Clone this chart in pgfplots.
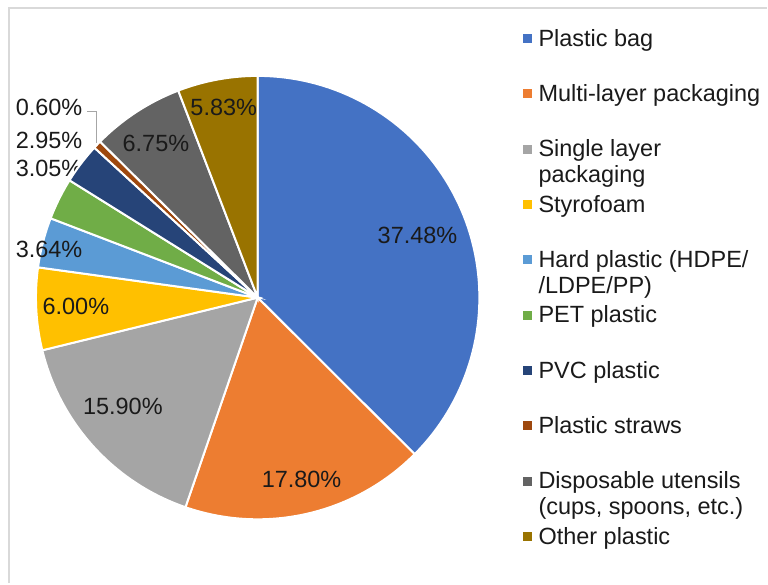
\documentclass[border=0pt]{standalone}
\usepackage{pgfplots}
\pgfplotsset{compat=1.18}
\usepackage{pgfplotstable}
\usepackage{fontspec}
\setmainfont{Liberation Sans}

% Office palette for the ten waste categories
\definecolor{slice0}{HTML}{4472C4}
\definecolor{slice1}{HTML}{ED7D31}
\definecolor{slice2}{HTML}{A5A5A5}
\definecolor{slice3}{HTML}{FFC000}
\definecolor{slice4}{HTML}{5B9BD5}
\definecolor{slice5}{HTML}{70AD47}
\definecolor{slice6}{HTML}{264478}
\definecolor{slice7}{HTML}{9E480E}
\definecolor{slice8}{HTML}{636363}
\definecolor{slice9}{HTML}{997300}
\definecolor{txt}{HTML}{1A1A1A}

% share in percent, position of its data label (pie radius = 1)
\pgfplotstableread{
share  lx      ly
37.48  0.721   0.279
17.80  0.198  -0.820
15.90 -0.608  -0.491
6.00  -0.820  -0.041
3.64  -0.941   0.216
3.05  -0.941   0.581
2.95  -0.941   0.707
0.60  -0.941   0.860
6.75  -0.459   0.694
5.83  -0.153   0.856
}\piedata

\newcommand\chartfont{\fontsize{23.5bp}{25.5bp}\selectfont}
\newcommand\entry[1]{\parbox[t]{228bp}{\raggedright #1}}
\tikzset{pct/.style={font=\chartfont, text=txt, inner sep=0pt, anchor=center}}

\begin{document}
\begin{tikzpicture}
\begin{axis}[
  x=222bp, y=222bp,
  xmin=-1.1622, xmax=2.2973,
  ymin=-1.2883, ymax=1.3423,
  hide axis, clip=false,
  legend image code/.code={\fill[#1,draw=none] (0bp,-4.5bp) rectangle (9bp,4.5bp);},
  legend style={at={(axis cs:1.1937,1.2117)}, anchor=north west,
    draw=none, fill=none, inner sep=0pt, row sep=36.9bp, column sep=7bp,
    font=\chartfont, text=txt, nodes={inner sep=0pt}},
  legend cell align=left,
]
\path (rel axis cs:0,0) rectangle (rel axis cs:1,1);
% chart frame
\draw[black!15, line width=2bp] (axis cs:-1.1216,-1.2883) -- (axis cs:-1.1216,1.3063) -- (axis cs:2.2973,1.3063);

\def\cum{0}
\pgfplotsforeachungrouped \i in {0,...,9}{%
  \pgfplotstablegetelem{\i}{share}\of\piedata \let\share\pgfplotsretval
  \pgfplotstablegetelem{\i}{lx}\of\piedata \let\lx\pgfplotsretval
  \pgfplotstablegetelem{\i}{ly}\of\piedata \let\ly\pgfplotsretval
  \pgfmathsetmacro\a{90-3.6*(\cum+\share)}%
  \pgfmathsetmacro\b{90-3.6*\cum}%
  \edef\doslice{\noexpand\addplot[fill=slice\i, draw=white, line width=2bp,
      domain=\a:\b, samples=80] ({cos(x)},{sin(x)}) -- (0,0) -- cycle;}%
  \doslice
  \edef\dolabel{\noexpand\node[pct] at (axis cs:\lx,\ly) {\share\noexpand\%};}%
  \dolabel
  \pgfmathsetmacro\cum{\cum+\share}%
}

% leader line of the smallest share
\draw[black!35, line width=0.8bp] (axis cs:-0.7703,0.8378) -- (axis cs:-0.7252,0.8378) -- (axis cs:-0.7252,0.6982);

\legend{
  {\entry{Plastic bag}},
  {\entry{Multi-layer packaging}},
  {\entry{Single layer\\packaging}},
  {\entry{Styrofoam}},
  {\entry{Hard plastic (HDPE/\\/LDPE/PP)}},
  {\entry{PET plastic}},
  {\entry{PVC plastic}},
  {\entry{Plastic straws}},
  {\entry{Disposable utensils\\(cups, spoons, etc.)}},
  {\entry{Other plastic}}
}
\end{axis}
\end{tikzpicture}
\end{document}
